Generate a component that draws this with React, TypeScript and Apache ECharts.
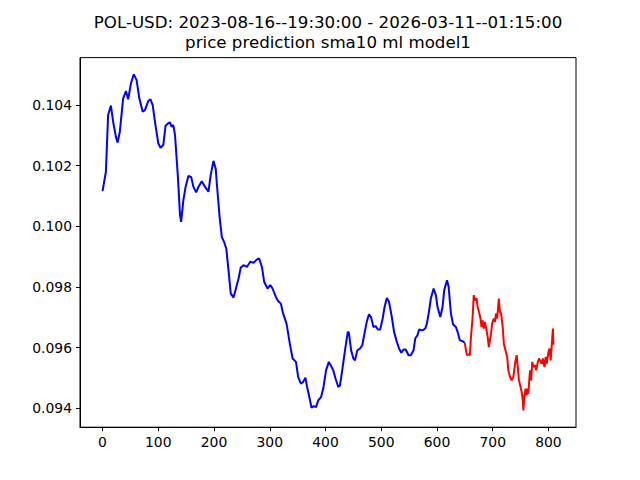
import React, { useEffect, useRef } from "react";
import * as echarts from "echarts";

const titleLine1 = "POL-USD: 2023-08-16--19:30:00 - 2026-03-11--01:15:00";
const titleLine2 = "price prediction sma10 ml model1";

const xTicks = [0, 100, 200, 300, 400, 500, 600, 700, 800];
const yTicks = [0.094, 0.096, 0.098, 0.1, 0.102, 0.104];

const blueIdx = [
  0, 6, 10, 15, 19, 24, 27, 31, 37, 42, 46, 51, 56, 61, 66, 72, 76, 82, 86, 90,
  94, 100, 104, 109, 113, 118, 121, 124, 127, 130, 135, 139, 141, 145, 149, 154,
  159, 163, 168, 172, 178, 184, 190, 194, 199, 203, 205, 210, 214, 218, 222, 226,
  230, 235, 240, 244, 248, 253, 259, 265, 271, 277, 281, 286, 290, 296, 301, 305,
  311, 315, 320, 324, 330, 336, 341, 347, 351, 356, 360, 364, 367, 371, 375, 379,
  383, 387, 392, 396, 401, 406, 411, 414, 418, 423, 426, 430, 435, 440, 442, 446,
  450, 453, 457, 462, 466, 471, 474, 478, 482, 486, 490, 494, 498, 502, 506, 510,
  514, 519, 523, 528, 532, 536, 540, 544, 549, 553, 558, 561, 565, 568, 574, 579,
  582, 586, 589, 594, 598, 601, 606, 610, 613, 618, 621, 623, 625, 629, 634, 637,
  641, 645, 650,
];
const blueVal = [
  0.10116, 0.1018, 0.10367, 0.10398, 0.10345, 0.10295, 0.10276, 0.10312, 0.10422,
  0.10446, 0.10419, 0.10472, 0.10501, 0.10483, 0.10422, 0.10378, 0.10383, 0.10413,
  0.10419, 0.104, 0.10345, 0.10274, 0.10259, 0.10268, 0.10332, 0.1034, 0.10343,
  0.10328, 0.10334, 0.10301, 0.10169, 0.10037, 0.10015, 0.10086, 0.1013, 0.10166,
  0.10163, 0.1013, 0.10112, 0.1013, 0.10149, 0.1013, 0.10114, 0.10169, 0.10216,
  0.10191, 0.10142, 0.10031, 0.09965, 0.09949, 0.09927, 0.09855, 0.09779, 0.09765,
  0.098, 0.09828, 0.09864, 0.09872, 0.09866, 0.09883, 0.0988, 0.09891, 0.09894,
  0.09866, 0.09817, 0.09795, 0.09806, 0.09795, 0.09767, 0.09754, 0.09745, 0.09712,
  0.0968, 0.09613, 0.09564, 0.09553, 0.09503, 0.09481, 0.09487, 0.09501, 0.0947,
  0.09437, 0.09402, 0.09407, 0.09404, 0.09426, 0.09437, 0.09465, 0.09525, 0.09553,
  0.09536, 0.09525, 0.09498, 0.0947, 0.09476, 0.09525, 0.09591, 0.09652, 0.09649,
  0.09591, 0.09564, 0.09558, 0.09591, 0.09597, 0.09608, 0.09657, 0.09685, 0.0971,
  0.09699, 0.09668, 0.09671, 0.0966, 0.0966, 0.0969, 0.09734, 0.09764, 0.09751,
  0.09701, 0.09652, 0.09619, 0.09597, 0.09583, 0.09594, 0.09594, 0.09575, 0.09575,
  0.09591, 0.0963, 0.09641, 0.0966, 0.09657, 0.09663, 0.0968, 0.09723, 0.09762,
  0.09795, 0.09773, 0.09734, 0.09701, 0.09734, 0.09789, 0.09822, 0.098, 0.09756,
  0.09713, 0.09676, 0.09668, 0.09652, 0.09624, 0.09622, 0.09616,
];

const redIdx = [
  650, 652, 654, 656, 659, 661, 664, 666, 668, 671, 673, 676, 678, 680, 682, 684,
  686, 689, 691, 693, 695, 697, 699, 702, 704, 706, 708, 711, 713, 715, 718, 720,
  723, 726, 728, 731, 734, 737, 739, 741, 743, 745, 747, 750, 752, 754, 755, 757,
  759, 761, 762, 764, 766, 767, 769, 771, 773, 776, 778, 781, 783, 785, 788, 790,
  793, 795, 797, 800, 802, 804, 806, 808, 809,
];
const redVal = [
  0.09616, 0.09591, 0.09575, 0.09578, 0.09575, 0.09635, 0.09701, 0.09773, 0.09756,
  0.09762, 0.09734, 0.09713, 0.09696, 0.09668, 0.0969, 0.09663, 0.09685, 0.09657,
  0.09635, 0.09602, 0.09624, 0.09646, 0.0968, 0.09696, 0.09685, 0.09713, 0.09696,
  0.09762, 0.09718, 0.09713, 0.09668, 0.09613, 0.09591, 0.09569, 0.09525, 0.09503,
  0.09492, 0.09503, 0.09531, 0.09558, 0.09575, 0.09536, 0.09492, 0.0947, 0.09454,
  0.09426, 0.09393, 0.09443, 0.09465, 0.09443, 0.09465, 0.09448, 0.09503, 0.09525,
  0.09492, 0.09553, 0.09536, 0.09542, 0.09525, 0.09553, 0.09564, 0.09558, 0.09547,
  0.09564, 0.09536, 0.09569, 0.09547, 0.09586, 0.09597, 0.09558, 0.09608, 0.09663,
  0.0961,
];

const FONT = "DejaVu Sans";

export default function App() {
  const ref = useRef<HTMLDivElement>(null);
  useEffect(() => {
    if (!ref.current) return;
    const chart = echarts.init(ref.current, null, { renderer: "svg" });
    const blueData = blueIdx.map((x, i) => [x, blueVal[i]]);
    const redData = redIdx.map((x, i) => [x, redVal[i]]);
    const axisCommon = {
      axisLine: { show: true, onZero: false, lineStyle: { color: "#000", width: 1 } },
      axisTick: { show: true, inside: false, length: 4, lineStyle: { color: "#000", width: 1 } },
      splitLine: { show: false },
    };
    chart.setOption({
      animation: false,
      backgroundColor: "#fff",
      grid: {
        left: 80,
        right: 64,
        top: 57.6,
        bottom: 52.8,
        show: true,
        borderColor: "#000",
        borderWidth: 1,
        backgroundColor: "transparent",
      },
      graphic: [
        {
          type: "text",
          x: 328,
          y: 22,
          style: {
            text: titleLine1,
            fontFamily: FONT,
            fontSize: 16.67,
            fill: "#000",
            textAlign: "center",
            textVerticalAlign: "middle",
          },
        },
        {
          type: "text",
          x: 328,
          y: 42,
          style: {
            text: titleLine2,
            fontFamily: FONT,
            fontSize: 16.67,
            fill: "#000",
            textAlign: "center",
            textVerticalAlign: "middle",
          },
        },
      ],
      xAxis: {
        type: "value",
        min: -40.45,
        max: 849.45,
        ...axisCommon,
        axisTick: { ...axisCommon.axisTick, customValues: xTicks },
        axisLabel: {
          customValues: xTicks,
          color: "#000",
          fontFamily: FONT,
          fontSize: 13.9,
          margin: 8,
        },
      },
      yAxis: {
        type: "value",
        min: 0.093376,
        max: 0.105564,
        ...axisCommon,
        axisTick: { ...axisCommon.axisTick, customValues: yTicks },
        axisLabel: {
          customValues: yTicks,
          color: "#000",
          fontFamily: FONT,
          fontSize: 13.9,
          margin: 8,
          formatter: (v: number) => v.toFixed(3),
        },
      },
      series: [
        {
          type: "line",
          data: blueData,
          showSymbol: false,
          symbol: "none",
          lineStyle: { color: "#0000ff", width: 2 },
          itemStyle: { color: "#0000ff" },
        },
        {
          type: "line",
          data: redData,
          showSymbol: false,
          symbol: "none",
          lineStyle: { color: "#ff0000", width: 2 },
          itemStyle: { color: "#ff0000" },
        },
      ],
    });
    return () => chart.dispose();
  }, []);
  return (
    <div
      ref={ref}
      style={{ position: "fixed", left: 0, top: 0, width: 640, height: 480, background: "#fff" }}
    />
  );
}
